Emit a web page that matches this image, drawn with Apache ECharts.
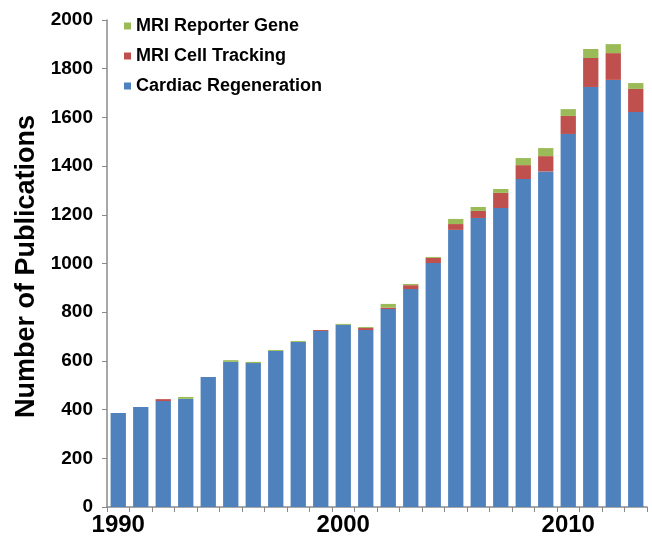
<!DOCTYPE html>
<html>
<head>
<meta charset="utf-8">
<script src="https://cdn.jsdelivr.net/npm/echarts@6/dist/echarts.min.js"></script>
<style>html,body{margin:0;padding:0;background:#fff}#c{width:652px;height:543px}</style>
</head>
<body>
<div id="c"></div>
<script>
const years = ['1990','1991','1992','1993','1994','1995','1996','1997','1998','1999','2000','2001','2002','2003','2004','2005','2006','2007','2008','2009','2010','2011','2012','2013'];
const cardiacRegeneration = [386,411,435,444,534,596,591,641,678,723,748,727,813,895,1002,1138,1187,1228,1347,1378,1532,1725,1754,1622];
const mriCellTracking = [0,0,8,0,0,0,0,0,0,4,0,8,6,16,21,24,29,62,57,63,74,119,110,95];
const mriReporterGene = [0,0,0,8,0,7,5,4,4,0,4,4,15,5,4,21,16,16,29,33,28,37,37,24];
const shownYearLabels = ['1990','2000','2010'];

const chart = echarts.init(document.getElementById('c'));
const font = 'Liberation Sans, Arial, sans-serif';
chart.setOption({
  animation: false,
  grid: { left: 107, right: 5, top: 20, bottom: 36 },
  legend: {
    orient: 'vertical', left: 119, top: 12, itemGap: 12,
    icon: 'rect', itemWidth: 7, itemHeight: 7,
    data: ['MRI Reporter Gene', 'MRI Cell Tracking', 'Cardiac Regeneration'],
    textStyle: { fontFamily: font, fontWeight: 'bold', fontSize: 18, color: '#000' }
  },
  xAxis: {
    type: 'category', data: years,
    axisLine: { lineStyle: { color: '#8a8a8a', width: 1.5 } },
    axisTick: { show: true, length: 5, lineStyle: { color: '#8a8a8a' } },
    axisLabel: {
      interval: 0,
      formatter: v => shownYearLabels.includes(v) ? v : '',
      fontFamily: font, fontWeight: 'bold', fontSize: 24, color: '#000', margin: 6
    }
  },
  yAxis: {
    type: 'value', min: 0, max: 2000, interval: 200,
    name: 'Number of Publications', nameLocation: 'middle', nameGap: 66,
    nameTextStyle: { fontFamily: font, fontWeight: 'bold', fontSize: 27, color: '#000', padding: [0, 6, 0, 0] },
    splitLine: { show: false },
    axisLine: { show: true, lineStyle: { color: '#8a8a8a', width: 1.5 } },
    axisTick: { show: true, length: 5, lineStyle: { color: '#8a8a8a' } },
    axisLabel: { formatter: v => String(v), fontFamily: font, fontWeight: 'bold', fontSize: 19, color: '#000', margin: 14 }
  },
  series: [
    { name: 'Cardiac Regeneration', type: 'bar', stack: 'a', data: cardiacRegeneration, barCategoryGap: '32%', itemStyle: { color: '#4F81BD' } },
    { name: 'MRI Cell Tracking', type: 'bar', stack: 'a', data: mriCellTracking, itemStyle: { color: '#C0504D' } },
    { name: 'MRI Reporter Gene', type: 'bar', stack: 'a', data: mriReporterGene, itemStyle: { color: '#9BBB59' } }
  ]
});
</script>
</body>
</html>
